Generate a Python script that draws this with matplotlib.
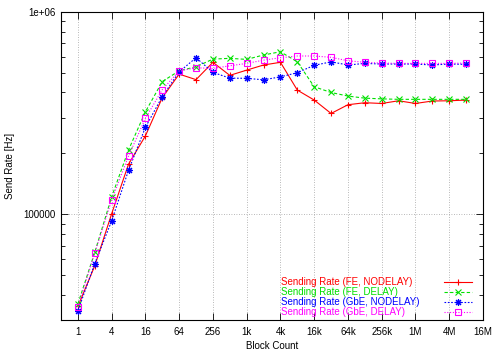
import numpy as np
import matplotlib
matplotlib.use("Agg")
import matplotlib.pyplot as plt
from matplotlib.ticker import LogLocator, NullLocator, NullFormatter

plt.rcParams['font.family'] = ['Liberation Sans', 'DejaVu Sans']
plt.rcParams['font.size'] = 7

# block counts (powers of two) and measured send rates [Hz]
block_count = [1, 2, 4, 8, 16, 32, 64, 128, 256, 512, 1024, 2048, 4096, 8192,
               16384, 32768, 65536, 131072, 262144, 524288, 1048576, 2097152,
               4194304, 8388608]

fe_nodelay = [35000, 55600, 100500, 176800, 244000, 377000, 493000, 463000,
              564000, 486000, 516000, 547000, 564000, 411000, 367000, 315000,
              348000, 356000, 353000, 364000, 353000, 363000, 364000, 367000]
fe_delay = [36000, 64800, 121800, 208000, 321000, 453000, 512000, 536000,
            585000, 590000, 583000, 613000, 636000, 567000, 427000, 400000,
            384000, 375000, 372000, 370000, 370000, 370000, 370000, 370000]
gbe_nodelay = [33300, 57000, 92700, 165000, 269000, 382000, 506000, 594000,
               503000, 471000, 470000, 462000, 478000, 501000, 545000, 567000,
               547000, 557000, 553000, 553000, 553000, 547000, 553000, 551000]
gbe_delay = [34800, 64300, 117300, 194000, 298000, 413000, 511000, 530000,
             526000, 542000, 557000, 578000, 594000, 606000, 606000, 597000,
             574000, 564000, 559000, 557000, 557000, 557000, 557000, 559000]

series = [fe_nodelay, fe_delay, gbe_nodelay, gbe_delay]
labels = ["Sending Rate (FE, NODELAY)", "Sending Rate (FE, DELAY)",
          "Sending Rate (GbE, NODELAY)", "Sending Rate (GbE, DELAY)"]
colors = ["#ff0000", "#00e000", "#0000ff", "#ff00ff"]
styles = ["-", (0, (3, 2)), (0, (1.5, 1.5)), (0, (1, 1.5))]
markers = ["+", "x", (8, 2, 0), "s"]

x_ticks = [1, 4, 16, 64, 256, 1024, 4096, 16384, 65536, 262144, 1048576,
           4194304, 16777216]
x_tick_labels = ["1", "4", "16", "64", "256", "1k", "4k", "16k", "64k", "256k",
                 "1M", "4M", "16M"]
y_ticks = [100000, 1000000]
y_tick_labels = ["100000", "1e+06"]

fig = plt.figure(figsize=(5, 3.5), dpi=100)
ax = fig.add_axes([0.122, 0.0857, 0.844, 0.88])

for ys, lab, c, ls, m in zip(series, labels, colors, styles, markers):
    mfc = "none" if m == "s" else c
    ax.plot(block_count, ys, color=c, linestyle=ls, linewidth=0.8,
            marker=m, markersize=5, markerfacecolor=mfc, markeredgewidth=0.8)

ax.set_xscale('log', base=2)
ax.set_yscale('log')
ax.set_xlim(0.5, 2**24)
ax.set_ylim(30000, 1e6)
ax.set_xticks(x_ticks, x_tick_labels)
ax.xaxis.set_minor_locator(NullLocator())
ax.set_yticks(y_ticks, y_tick_labels)
ax.yaxis.set_minor_locator(LogLocator(base=10, subs=np.arange(2, 10)))
ax.yaxis.set_minor_formatter(NullFormatter())
ax.tick_params(which='both', direction='in', top=True, right=True, width=0.6)
ax.tick_params(which='major', length=5)
ax.tick_params(which='minor', length=3)
ax.tick_params(axis='x', pad=5)
ax.tick_params(axis='y', pad=4)
ax.grid(True, which='major', color='#a0a0a0', linestyle=(0, (1, 2)), linewidth=0.6)
for sp in ax.spines.values():
    sp.set_linewidth(0.8)

ax.set_xlabel("Block Count", labelpad=3)
ax.set_ylabel("Send Rate [Hz]", labelpad=6)

# gnuplot style key: left-justified text, sample on the right
key_y = [0.1224, 0.0899, 0.0584, 0.027]
for ky, lab, c, ls, m in zip(key_y, labels, colors, styles, markers):
    mfc = "none" if m == "s" else c
    ax.text(0.521, ky, lab, color=c, transform=ax.transAxes, va='center', ha='left')
    ax.plot([0.9076, 0.974], [ky, ky], color=c, linestyle=ls, linewidth=0.8,
            transform=ax.transAxes, clip_on=False)
    ax.plot([0.941], [ky], color=c, marker=m, markersize=5, markerfacecolor=mfc,
            markeredgewidth=0.8, transform=ax.transAxes, clip_on=False)

fig.savefig("out.png", dpi=100)
